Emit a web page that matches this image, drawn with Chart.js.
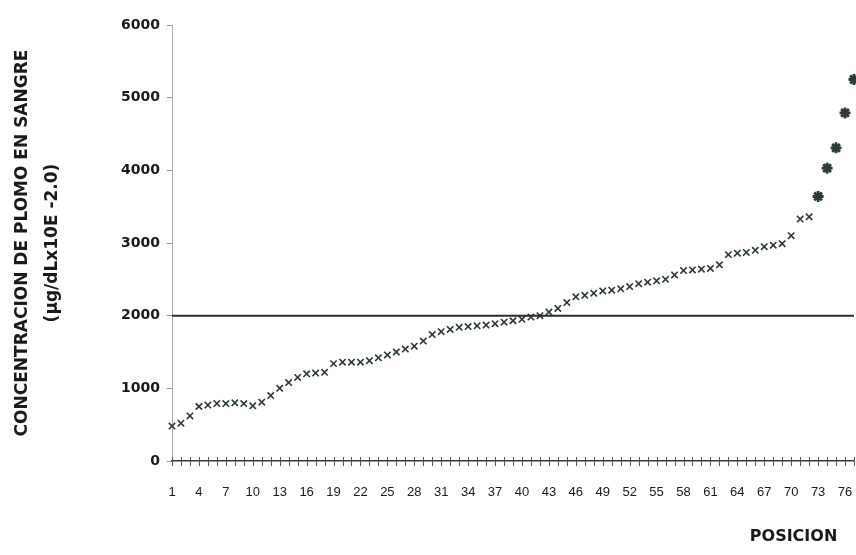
<!DOCTYPE html>
<html>
<head>
<meta charset="utf-8">
<script src="https://cdn.jsdelivr.net/npm/chart.js@4.4.1/dist/chart.umd.min.js"></script>
<style>
  html, body { margin: 0; padding: 0; background: #fff; }
</style>
</head>
<body>
<canvas id="plomoChart" width="856" height="555"></canvas>
<script>
// posiciones 1..77 (etiqueta cada 3)
const positions = [];
for (let i = 1; i <= 77; i++) positions.push(String(i));

// concentracion de plomo en sangre, ordenada
const plomo = [
    480, 520, 620, 750, 770, 790, 790, 800, 790, 760,
    810, 900, 1000, 1080, 1150, 1200, 1210, 1220, 1340, 1360,
    1360, 1360, 1380, 1420, 1460, 1500, 1540, 1580, 1650, 1740,
    1780, 1810, 1840, 1850, 1860, 1870, 1890, 1910, 1930, 1950,
    1980, 2000, 2050, 2100, 2180, 2260, 2280, 2310, 2340, 2350,
    2370, 2400, 2440, 2460, 2480, 2500, 2560, 2620, 2630, 2640,
    2650, 2700, 2840, 2860, 2870, 2900, 2950, 2970, 2990, 3100,
    3330, 3360, 3640, 4030, 4310, 4790, 5250
];

const limite = 2000;
const yTicks = [0, 1000, 2000, 3000, 4000, 5000, 6000];

// small "+" ticks crossing the category axis
const crossTicks = {
    id: 'crossTicks',
    afterDraw(chart) {
        const x = chart.scales.x;
        const ctx = chart.ctx;
        const y0 = x.top;
        ctx.save();
        ctx.strokeStyle = '#555';
        ctx.lineWidth = 1;
        ctx.beginPath();
        x.ticks.forEach((t, i) => {
            const px = Math.round(x.getPixelForTick(i)) + 0.5;
            ctx.moveTo(px, y0 - 4);
            ctx.lineTo(px, y0 + 5);
        });
        ctx.stroke();
        ctx.restore();
    }
};

const ctx = document.getElementById('plomoChart');
new Chart(ctx, {
    type: 'line',
    data: {
        labels: positions,
        datasets: [
            {
                label: 'Limite',
                data: positions.map(() => limite),
                borderColor: '#2b2f2c',
                borderWidth: 2,
                pointRadius: 0,
                tension: 0
            },
            {
                label: 'Plomo',
                data: plomo,
                showLine: false,
                pointStyle: c => (c.dataIndex >= 72 ? 'star' : 'crossRot'),
                pointRadius: c => (c.dataIndex >= 72 ? 5.5 : 4.5),
                pointBorderWidth: c => (c.dataIndex >= 72 ? 2.8 : 1.6),
                borderColor: '#2c3a31',
                backgroundColor: '#2c3a31'
            }
        ]
    },
    options: {
        responsive: false,
        animation: false,
        layout: { autoPadding: false, padding: { top: 25, right: 2, bottom: 0, left: 0 } },
        plugins: {
            legend: { display: false },
            tooltip: { enabled: false }
        },
        scales: {
            x: {
                type: 'category',
                offset: false,
                grid: { drawOnChartArea: false, drawTicks: true, tickLength: 22, tickColor: 'rgba(0,0,0,0)' },
                border: { color: '#3a3a3a', width: 1.5 },
                ticks: {
                    autoSkip: false,
                    maxRotation: 0,
                    padding: 2,
                    color: '#1a1a1a',
                    font: { family: 'Liberation Sans', size: 13 },
                    callback: (v, i) => (i % 3 === 0 ? positions[i] : '')
                },
                title: {
                    display: true,
                    text: 'POSICION   ',
                    align: 'end',
                    color: '#1a1a1a',
                    font: { family: 'DejaVu Sans', size: 16, weight: 'bold' },
                    padding: { top: 0, bottom: 9 }
                },
                afterFit: s => {
                    s.height = 94;
                    s.paddingLeft = 0;
                    s.paddingRight = 0;
                }
            },
            y: {
                min: 0,
                max: 6000,
                afterBuildTicks: s => { s.ticks = yTicks.map(v => ({ value: v })); },
                grid: { drawOnChartArea: false, tickLength: 5, color: '#999' },
                border: { color: '#aaa', width: 1 },
                ticks: {
                    padding: 7,
                    color: '#1a1a1a',
                    font: { family: 'DejaVu Sans', size: 14, weight: 'bold' },
                    callback: v => String(v)
                },
                title: {
                    display: true,
                    text: ['CONCENTRACION DE PLOMO EN SANGRE', '(\u00b5g/dLx10E -2.0)'],
                    color: '#1a1a1a',
                    font: { family: 'DejaVu Sans', size: 17, weight: 'bold', lineHeight: 1.765 },
                    padding: { top: 8, bottom: 0 }
                },
                afterFit: s => { s.width = 172; }
            }
        }
    },
    plugins: [crossTicks]
});
</script>
</body>
</html>
